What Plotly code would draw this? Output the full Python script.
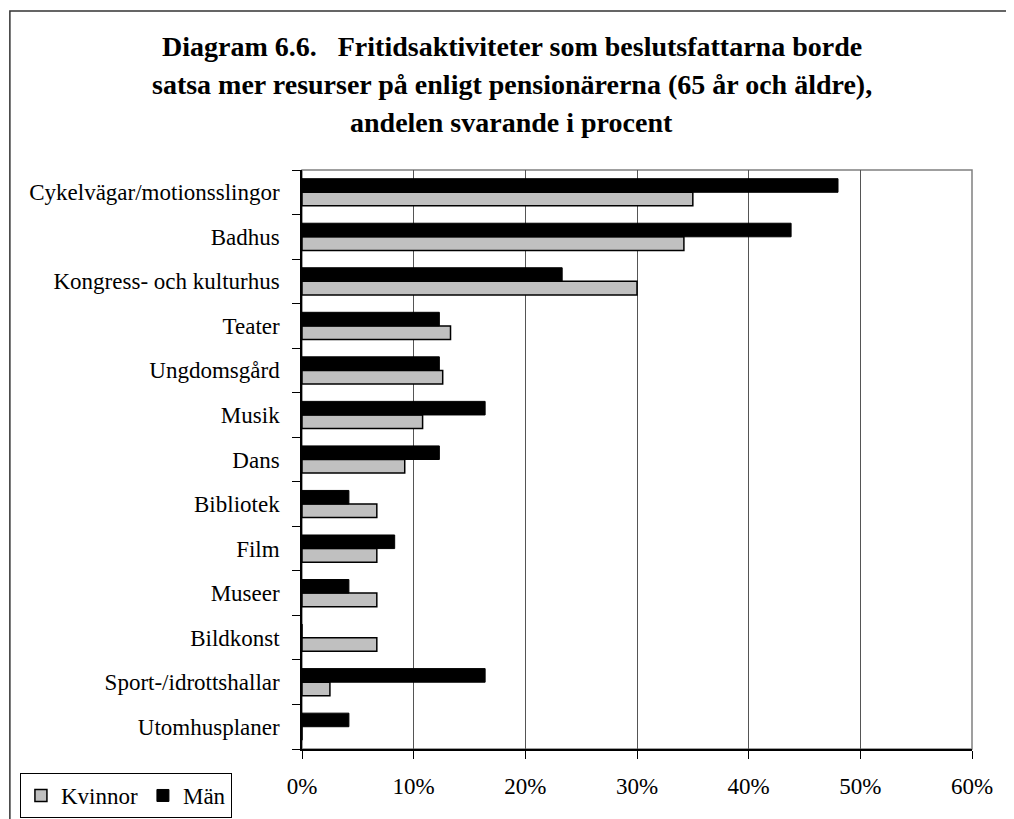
import plotly.graph_objects as go

categories = [
    "Cykelvägar/motionsslingor", "Badhus", "Kongress- och kulturhus", "Teater",
    "Ungdomsgård", "Musik", "Dans", "Bibliotek", "Film", "Museer", "Bildkonst",
    "Sport-/idrottshallar", "Utomhusplaner",
]
kvinnor = [35.0, 34.2, 30.0, 13.3, 12.6, 10.8, 9.2, 6.7, 6.7, 6.7, 6.7, 2.5, 0.0]
man = [48.0, 43.8, 23.3, 12.3, 12.3, 16.4, 12.3, 4.2, 8.3, 4.2, 0.0, 16.4, 4.2]
x_ticks = [0, 10, 20, 30, 40, 50, 60]
x_ticktext = [f"{t}%" for t in x_ticks]
title_lines = [
    "Diagram 6.6.   Fritidsaktiviteter som beslutsfattarna borde",
    "satsa mer resurser på enligt pensionärerna (65 år och äldre),",
    "andelen svarande i procent",
]

FONT = "Liberation Serif, Times New Roman, serif"

fig = go.Figure()
fig.add_trace(go.Bar(
    y=categories, x=kvinnor, name="Kvinnor", orientation="h",
    marker=dict(color="#C0C0C0", line=dict(color="black", width=1.5)),
))
fig.add_trace(go.Bar(
    y=categories, x=man, name="Män", orientation="h",
    marker=dict(color="black", line=dict(color="black", width=1)),
))

# titles as separate lines to get the wide line spacing
for i, line in enumerate(title_lines):
    fig.add_annotation(
        text=f"<b>{line}</b>", xref="paper", yref="paper",
        x=0.313, y=1.213 - i * 0.0656, xanchor="center", yanchor="middle",
        showarrow=False, font=dict(family=FONT, size=28, color="black"),
    )

# plot area frame (top/right gray) and outer border
fig.add_shape(type="rect", xref="paper", yref="paper", x0=0, x1=1, y0=0, y1=1,
              line=dict(color="#808080", width=1.5), layer="below")
fig.add_shape(type="rect", xref="paper", yref="paper", x0=-0.436, x1=1.1,
              y0=-0.2, y1=1.2746, line=dict(color="#333333", width=1.5))

fig.update_layout(
    width=1006, height=811,
    margin=dict(l=294, r=42, t=162, b=70, autoexpand=False),
    paper_bgcolor="white", plot_bgcolor="white",
    font=dict(family=FONT, size=23, color="black"),
    barmode="group", bargap=0.39, bargroupgap=0,
    showlegend=True,
    legend=dict(
        orientation="h", x=-0.421, y=-0.0415, xanchor="left", yanchor="top",
        bordercolor="black", borderwidth=1, font=dict(family=FONT, size=23),
        itemwidth=30,
    ),
    xaxis=dict(
        range=[0, 60], tickvals=x_ticks, ticktext=x_ticktext,
        showgrid=True, gridcolor="#555555", gridwidth=1,
        showline=True, linecolor="black", linewidth=1.5,
        ticks="outside", ticklen=8, tickcolor="black",
        ticklabelstandoff=8, zeroline=False, automargin=False,
    ),
    yaxis=dict(
        categoryorder="array", categoryarray=categories[::-1],
        showgrid=False, showline=True, linecolor="black", linewidth=1.5,
        ticks="outside", ticklen=8, tickcolor="black", tickson="boundaries",
        ticklabelstandoff=16, automargin=False,
    ),
)

fig.write_html("out.html")
